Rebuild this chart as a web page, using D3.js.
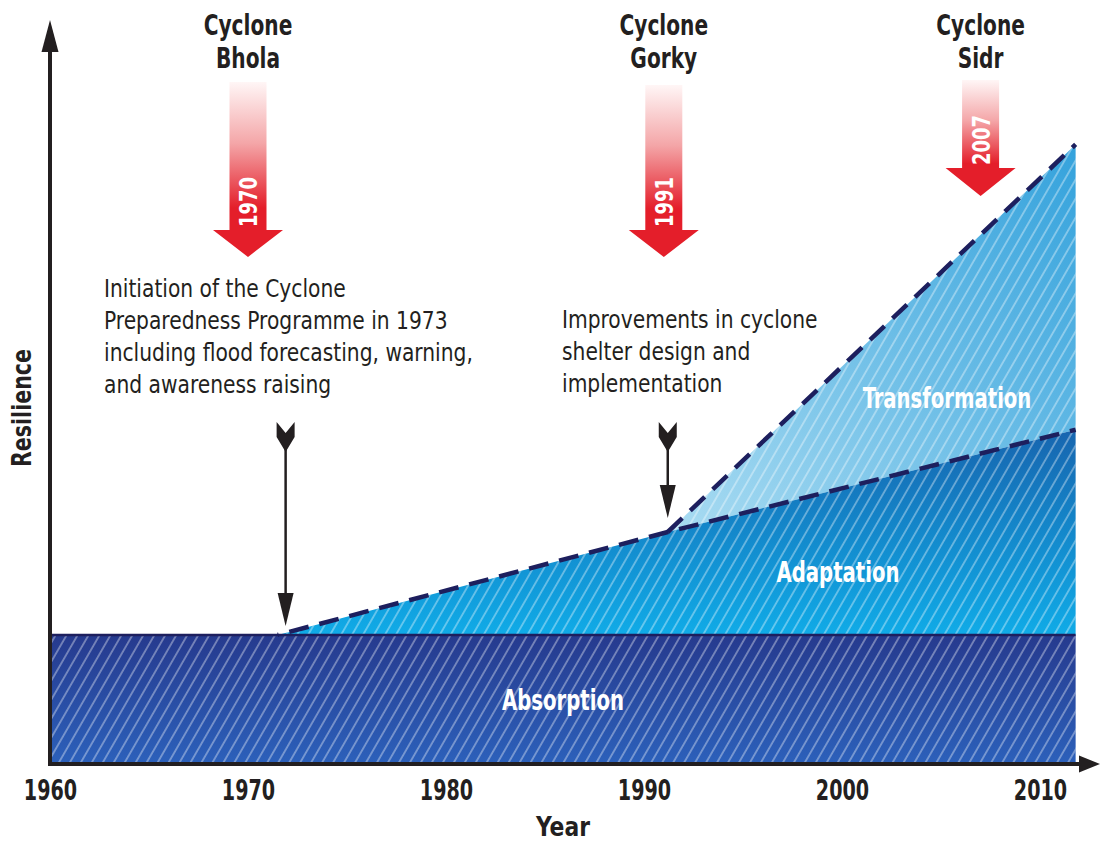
<!DOCTYPE html>
<html>
<head>
<meta charset="utf-8">
<script src="https://cdn.jsdelivr.net/npm/d3@7"></script>
<style>
  html, body { margin: 0; padding: 0; background: #ffffff; }
  svg text { font-family: "Liberation Sans Narrow", "DejaVu Sans Condensed", "Roboto Condensed", "Liberation Sans", sans-serif; font-stretch: condensed; }
</style>
</head>
<body>
<svg id="chart" width="1103" height="844"></svg>
<script>
// ---------------- data ----------------
const tickYears = [1960, 1970, 1980, 1990, 2000, 2010];
const absorptionYears = [1960, 2011.8];
const absorptionValues = [20, 20];
const adaptationYears = [1971.5, 1991.2, 2011.8];
const adaptationValues = [20, 36.2, 52.3];
const transformationYears = [1991.2, 2011.8];
const transformationValues = [36.2, 97.2];
const cycloneNames = ["Bhola", "Gorky", "Sidr"];
const cycloneYears = [1970, 1991, 2007];
const interventionYears = [1971.9, 1991.2];
const interventionTexts = [
  ["Initiation of the Cyclone", "Preparedness Programme in 1973", "including flood forecasting, warning,", "and awareness raising"],
  ["Improvements in cyclone", "shelter design and", "implementation"]
];
const regionLabels = ["Absorption", "Adaptation", "Transformation"];

// ---------------- layout ----------------
const x = d3.scaleLinear().domain([1960, 2010]).range([50, 1040]);
const y = d3.scaleLinear().domain([0, 116]).range([762, 25]);
const dark = "#231f20";
const navy = "#1d1f5e";

const svg = d3.select("#chart");
const defs = svg.append("defs");

// horizontally compress text to mimic a condensed face
function compress(sel, f) {
  sel.each(function () {
    const len = this.getComputedTextLength();
    d3.select(this).attr("textLength", len * f).attr("lengthAdjust", "spacingAndGlyphs");
  });
}

function grad(id, stops, x1, y1, x2, y2) {
  const g = defs.append("linearGradient").attr("id", id)
    .attr("gradientUnits", "userSpaceOnUse")
    .attr("x1", x1).attr("y1", y1).attr("x2", x2).attr("y2", y2);
  stops.forEach(s => g.append("stop").attr("offset", s[0]).attr("stop-color", s[1]));
}
grad("gAbs", [[0, "#263a8e"], [1, "#2c60ba"]], 0, y(20), 0, y(0));
grad("gAdapt", [[0, "#10abe7"], [1, "#1765af"]], 0, y(20), 0, y(52.3));
grad("gTrans", [[0, "#aadcf2"], [1, "#34a2dc"]], x(1991.2), y(36.2), x(2011.8), y(97.2));

const rg = defs.append("linearGradient").attr("id", "gRed")
  .attr("x1", 0).attr("y1", 0).attr("x2", 0).attr("y2", 1);
[[0, "#fff6f6"], [0.35, "#f4a6a8"], [0.72, "#e41e2a"], [1, "#e41e2a"]]
  .forEach(s => rg.append("stop").attr("offset", s[0]).attr("stop-color", s[1]));

// hatch pattern
const pat = defs.append("pattern").attr("id", "hatch")
  .attr("patternUnits", "userSpaceOnUse")
  .attr("width", 9.5).attr("height", 20)
  .attr("patternTransform", "rotate(30)");
pat.append("line").attr("x1", 4.75).attr("y1", 0).attr("x2", 4.75).attr("y2", 20)
  .attr("stroke", "#ffffff").attr("stroke-opacity", 0.42).attr("stroke-width", 1.6);

// areas
const zip = (a, b) => a.map((v, i) => [v, b[i]]);
const areaAbs = d3.area().x(d => x(d[0])).y0(y(0)).y1(d => y(d[1]));
const areaAdapt = d3.area().x(d => x(d[0])).y0(y(20)).y1(d => y(d[1]));
const absData = zip(absorptionYears, absorptionValues);
const adaptData = zip(adaptationYears, adaptationValues);
const transData = zip(transformationYears, transformationValues);
const transPoly = [
  [x(transformationYears[0]), y(transformationValues[0])],
  [x(transformationYears[1]), y(transformationValues[1])],
  [x(adaptationYears[2]), y(adaptationValues[2])]
];

svg.append("path").attr("d", d3.line()(transPoly) + "Z").attr("fill", "url(#gTrans)");
svg.append("path").attr("d", d3.line()(transPoly) + "Z").attr("fill", "url(#hatch)");
svg.append("path").attr("d", areaAdapt(adaptData)).attr("fill", "url(#gAdapt)");
svg.append("path").attr("d", areaAdapt(adaptData)).attr("fill", "url(#hatch)");
svg.append("path").attr("d", areaAbs(absData)).attr("fill", "url(#gAbs)");
svg.append("path").attr("d", areaAbs(absData)).attr("fill", "url(#hatch)");

// absorption top border
svg.append("line")
  .attr("x1", x(absorptionYears[0])).attr("x2", x(absorptionYears[1]))
  .attr("y1", y(20)).attr("y2", y(20))
  .attr("stroke", navy).attr("stroke-width", 2.5);

// dashed lines
const line = d3.line().x(d => x(d[0])).y(d => y(d[1]));
svg.append("path").attr("d", line(adaptData))
  .attr("fill", "none").attr("stroke", navy).attr("stroke-width", 4.5)
  .attr("stroke-dasharray", "20 11").attr("stroke-dashoffset", -12);
svg.append("path").attr("d", line(transData))
  .attr("fill", "none").attr("stroke", navy).attr("stroke-width", 4.5)
  .attr("stroke-dasharray", "20 11");

// region labels
const labelPos = [[563, 710], [838, 582], [947, 408]];
const rl = svg.selectAll("text.region").data(regionLabels).join("text")
  .attr("class", "region")
  .attr("x", (d, i) => labelPos[i][0]).attr("y", (d, i) => labelPos[i][1])
  .attr("text-anchor", "middle").attr("fill", "#ffffff")
  .attr("font-weight", "bold").attr("font-size", 28).text(d => d);
compress(rl, 0.78);

// axes lines with arrows
svg.append("line").attr("x1", 50).attr("x2", 50).attr("y1", 766).attr("y2", 48)
  .attr("stroke", dark).attr("stroke-width", 4);
svg.append("path").attr("d", "M50,20 L41.5,52 L58.5,52 Z").attr("fill", dark);
svg.append("line").attr("x1", 48).attr("x2", 1082).attr("y1", 764).attr("y2", 764)
  .attr("stroke", dark).attr("stroke-width", 4);
svg.append("path").attr("d", "M1100,764 L1079,755.5 L1079,772.5 Z").attr("fill", dark);

// x axis ticks
const xAxis = d3.axisBottom(x).tickValues(tickYears).tickFormat(d3.format("d")).tickSize(0);
const gx = svg.append("g").attr("transform", "translate(0,764)").call(xAxis);
gx.select(".domain").remove();
gx.attr("font-family", null);
const tl = gx.selectAll("text").attr("y", 36).attr("dy", 0)
  .attr("fill", dark).attr("font-size", 28).attr("font-weight", "bold");
compress(tl, 0.76);

// axis titles
const yt = svg.append("text").attr("x", 563).attr("y", 836).attr("text-anchor", "middle")
  .attr("fill", dark).attr("font-weight", "bold").attr("font-size", 27).text("Year");
compress(yt, 0.9);
const rt = svg.append("text").attr("transform", "translate(31,408) rotate(-90)").attr("text-anchor", "middle")
  .attr("fill", dark).attr("font-weight", "bold").attr("font-size", 26).text("Resilience");
compress(rt, 0.88);

// cyclone arrows
const arrowTop = [82, 85, 80];
const headBase = [230, 230, 168];
const headTip = [257, 257, 196];
const shaftW = 37, headW = 70;
const cg = svg.selectAll("g.cyclone").data(cycloneNames).join("g").attr("class", "cyclone");
cg.append("path").attr("d", (d, i) => {
  const cx = x(cycloneYears[i]);
  return `M${cx - shaftW / 2},${arrowTop[i]} L${cx + shaftW / 2},${arrowTop[i]} L${cx + shaftW / 2},${headBase[i]} L${cx + headW / 2},${headBase[i]} L${cx},${headTip[i]} L${cx - headW / 2},${headBase[i]} L${cx - shaftW / 2},${headBase[i]} Z`;
}).attr("fill", "url(#gRed)");
const cyt = cg.append("text")
  .attr("transform", (d, i) => `translate(${x(cycloneYears[i]) + 9},${headBase[i] - 3}) rotate(-90)`)
  .attr("fill", "#ffffff").attr("font-weight", "bold").attr("font-size", 25)
  .text((d, i) => cycloneYears[i]);
compress(cyt, 0.8);
const c1 = cg.append("text").attr("x", (d, i) => x(cycloneYears[i])).attr("y", 35)
  .attr("text-anchor", "middle").attr("fill", dark).attr("font-weight", "bold").attr("font-size", 28)
  .text("Cyclone");
const c2 = cg.append("text").attr("x", (d, i) => x(cycloneYears[i])).attr("y", 68)
  .attr("text-anchor", "middle").attr("fill", dark).attr("font-weight", "bold").attr("font-size", 28)
  .text(d => d);
compress(c1, 0.8);
compress(c2, 0.8);

// intervention arrows
const fletchTop = [422, 422];
const interTip = [626, 518];
const ig = svg.selectAll("g.inter").data(interventionYears).join("g").attr("class", "inter");
ig.append("line").attr("x1", d => x(d)).attr("x2", d => x(d))
  .attr("y1", 440).attr("y2", (d, i) => interTip[i] - 20)
  .attr("stroke", dark).attr("stroke-width", 2.5);
ig.append("path").attr("d", (d, i) => {
  const cx = x(d), t = fletchTop[i];
  return `M${cx - 9},${t} L${cx},${t + 11} L${cx + 9},${t} L${cx + 9},${t + 15} L${cx},${t + 30} L${cx - 9},${t + 15} Z`;
}).attr("fill", dark);
ig.append("path").attr("d", (d, i) => {
  const cx = x(d), tip = interTip[i];
  return `M${cx},${tip} L${cx - 8},${tip - 33} L${cx + 8},${tip - 33} Z`;
}).attr("fill", dark);

// intervention texts
const textX = [104, 562];
const textY0 = [297, 328];
interventionTexts.forEach((lines, i) => {
  lines.forEach((l, j) => {
    const t = svg.append("text").attr("fill", dark).attr("font-size", 25)
      .attr("x", textX[i]).attr("y", textY0[i] + j * 32).text(l);
    compress(t, 0.9);
  });
});
</script>
</body>
</html>
